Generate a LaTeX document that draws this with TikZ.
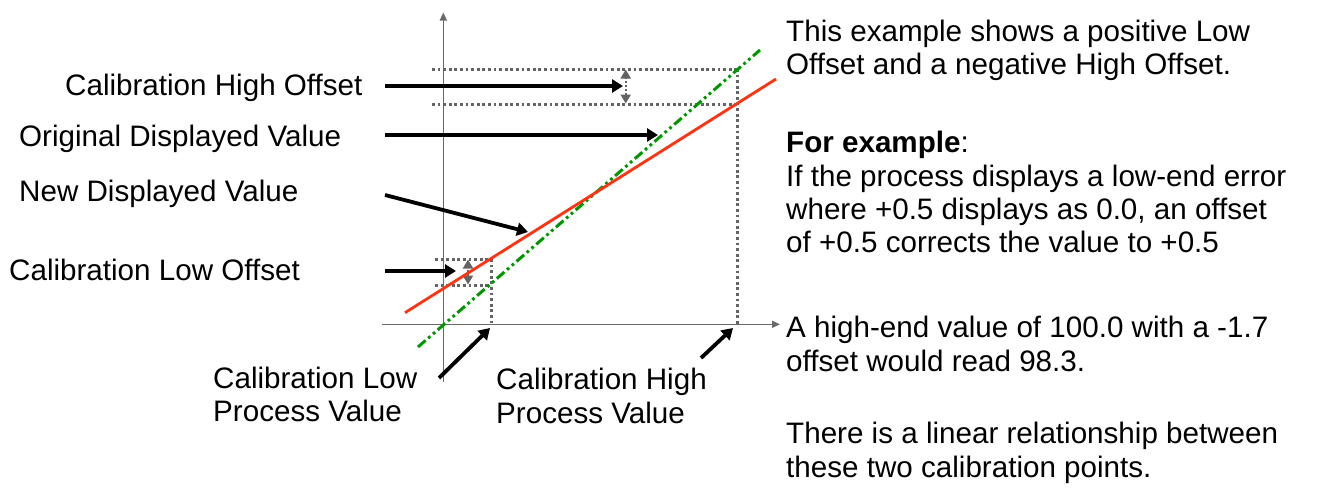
\documentclass[tikz,border=0pt]{standalone}
\usepackage{fontspec}
\setmainfont{Liberation Sans}
\usetikzlibrary{arrows.meta}
\definecolor{redline}{RGB}{255,51,17}
\definecolor{greenline}{RGB}{0,150,0}
\definecolor{guide}{RGB}{100,100,100}
\definecolor{axisgray}{RGB}{105,105,105}
\tikzset{
  lbl/.style={inner sep=0pt, anchor=base west, font=\fontsize{29.6}{33.6}\selectfont, align=left},
  pointer/.style={line width=3.8pt, -{Triangle[width=13pt,length=11pt]}},
  guideline/.style={guide, line width=3pt, dash pattern=on 2.8pt off 2.8pt},
  offsetarrow/.style={guide, line width=2pt, dash pattern=on 2pt off 2pt, {Triangle[width=10pt,length=9pt]}-{Triangle[width=10pt,length=9pt]}},
  axisline/.style={axisgray, line width=1.6pt, -{Triangle[width=7pt,length=8pt]}},
  origline/.style={greenline, line width=3pt, dash pattern=on 10pt off 3.5pt on 2.8pt off 3.5pt on 2.8pt off 3.5pt},
  newline/.style={redline, line width=2.8pt}
}
\begin{document}
\begin{tikzpicture}[x=1pt,y=-1pt]
\useasboundingbox (0,0) rectangle (1340,490);
% axes
\coordinate (xs) at (382,324.3);
\coordinate (xe) at (780,324.3);
\coordinate (ys) at (443.3,382);
\coordinate (ye) at (443.3,12.5);
\draw[axisline] (xs) -- (xe);
\draw[axisline] (ys) -- (ye);
% guide lines
\coordinate (hgA) at (432,69);
\coordinate (hgB) at (737,69);
\coordinate (hgC) at (432,104);
\coordinate (hgD) at (737,104);
\coordinate (hgE) at (737,324.3);
\draw[guideline] (hgA) -- (hgB);
\draw[guideline] (hgC) -- (hgD);
\draw[guideline] (hgB) -- (hgE);
\coordinate (lgA) at (435,259);
\coordinate (lgB) at (491,259);
\coordinate (lgC) at (435,285);
\coordinate (lgD) at (491,285);
\coordinate (lgE) at (491,324.3);
\draw[guideline] (lgA) -- (lgB);
\draw[guideline] (lgC) -- (lgD);
\draw[guideline] (lgB) -- (lgE);
% offset arrows
\coordinate (hoT) at (625.7,69.5);
\coordinate (hoB) at (625.7,103.5);
\draw[offsetarrow] (hoB) -- (hoT);
\coordinate (loT) at (468,259.5);
\coordinate (loB) at (468,284.5);
\draw[offsetarrow] (loB) -- (loT);
% lines
\coordinate (gA) at (418,347);
\coordinate (gB) at (760,50);
\draw[origline] (gA) -- (gB);
\coordinate (rA) at (405,312.7);
\coordinate (rB) at (776,79);
\draw[newline] (rA) -- (rB);
% left labels
\node[lbl] (lHO) at (65,95) {Calibration High Offset};
\node[lbl] (lOD) at (19,146) {Original Displayed Value};
\node[lbl] (lND) at (19,201.7) {New Displayed Value};
\node[lbl] (lLO) at (9,280) {Calibration Low Offset};
\node[lbl] (lLP) at (213,421.7) {Calibration Low\\Process Value};
\node[lbl] (lHP) at (496,423.5) {Calibration High\\Process Value};
% pointers
\coordinate (pHOs) at (385,86);  \coordinate (pHOe) at (623,86);
\coordinate (pODs) at (385,135); \coordinate (pODe) at (658,135);
\coordinate (pNDs) at (385,195); \coordinate (pNDe) at (528,232);
\coordinate (pLOs) at (385,271); \coordinate (pLOe) at (456,271);
\coordinate (pLPs) at (439,378); \coordinate (pLPe) at (490,328);
\coordinate (pHPs) at (701,358); \coordinate (pHPe) at (733,328);
\draw[pointer] (pHOs) -- (pHOe);
\draw[pointer] (pODs) -- (pODe);
\draw[pointer] (pNDs) -- (pNDe);
\draw[pointer] (pLOs) -- (pLOe);
\draw[pointer] (pLPs) -- (pLPe);
\draw[pointer] (pHPs) -- (pHPe);
% right text
\node[lbl] (t1) at (786,41.5) {This example shows a positive Low};
\node[lbl] (t2) at (786,74.5) {Offset and a negative High Offset.};
\node[lbl] (t3) at (786,152.7) {\textbf{For example}:};
\node[lbl] (t4) at (786,186) {If the process displays a low-end error};
\node[lbl] (t5) at (786,219) {where +0.5 displays as 0.0, an offset};
\node[lbl] (t6) at (786,252) {of +0.5 corrects the value to +0.5};
\node[lbl] (t7) at (786,337.3) {A high-end value of 100.0 with a -1.7};
\node[lbl] (t8) at (786,371.7) {offset would read 98.3.};
\node[lbl] (t9) at (786,443.3) {There is a linear relationship between};
\node[lbl] (t10) at (786,477.7) {these two calibration points.};
\end{tikzpicture}
\end{document}
